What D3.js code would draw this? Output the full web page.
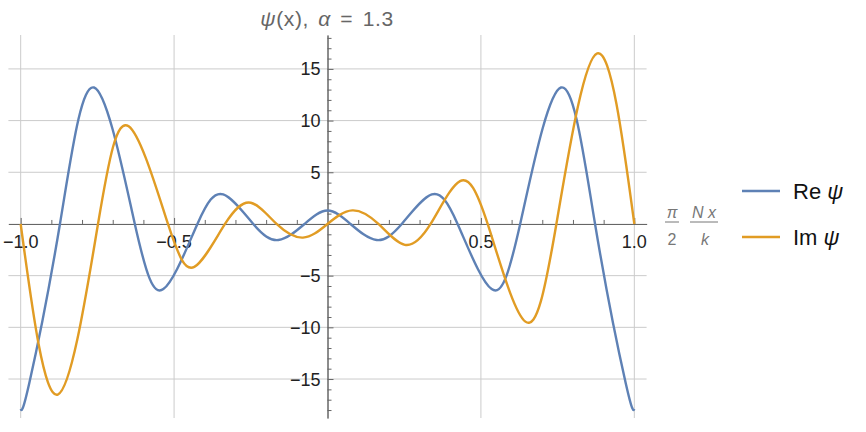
<!DOCTYPE html>
<html>
<head>
<meta charset="utf-8">
<script src="https://cdn.jsdelivr.net/npm/d3@7"></script>
<style>
  body { margin: 0; background: #fff; }
  svg { display: block; font-family: "Liberation Sans", Arial, sans-serif; }
</style>
</head>
<body>
<svg width="866" height="432"></svg>
<script>
// values: ends, zero crossings and turning points
var reX = [-1.000, -0.972, -0.872, -0.761, -0.628, -0.535, -0.424, -0.340, -0.242, -0.160, -0.075, 0.000,
            0.075, 0.160, 0.242, 0.340, 0.424, 0.535, 0.628, 0.761, 0.872, 0.972, 1.000];
var reY = [-17.9, -15.4, 0, 13.2, 0, -6.3, 0, 2.86, 0, -1.55, 0, 1.3,
            0, -1.55, 0, 2.86, 0, -6.3, 0, 13.2, 0, -15.4, -17.9];

var imX = [-1.000, -0.879, -0.748, -0.648, -0.520, -0.434, -0.334, -0.250, -0.166, -0.080, 0.000,
            0.081, 0.166, 0.252, 0.336, 0.432, 0.522, 0.645, 0.746, 0.879, 1.000];
var imY = [0, -16.5, 0, 9.45, 0, -4.15, 0, 2.05, 0, -1.32, 0,
           1.31, 0, -2.02, 0, 4.15, 0, -9.45, 0, 16.5, 0];

var xTicks = [-1, -0.5, 0.5, 1];
var xTickLabels = ["\u22121.0", "\u22120.5", "0.5", "1.0"];
var yTicks = [-15, -10, -5, 5, 10, 15];
var yTickLabels = ["\u221215", "\u221210", "\u22125", "5", "10", "15"];
var seriesNames = ["Re \u03c8", "Im \u03c8"];
var colors = ["#5e81b5", "#e19c24"];

var svg = d3.select('svg');

var x = d3.scaleLinear().domain([-1.04, 1.04]).range([8.4, 646.6]);
var y = d3.scaleLinear().domain([-18.77, 18.28]).range([418, 35]);

var gridColor = '#cbcbcb',
    axisColor = '#666';

// grid
svg.append('g').selectAll('line')
    .data(xTicks)
    .enter()
    .append('line')
    .attr('x1', function(d) { return x(d); })
    .attr('x2', function(d) { return x(d); })
    .attr('y1', y.range()[1])
    .attr('y2', y.range()[0])
    .attr('stroke', gridColor)
    .attr('stroke-width', 1);

svg.append('g').selectAll('line')
    .data(yTicks)
    .enter()
    .append('line')
    .attr('x1', x.range()[0])
    .attr('x2', x.range()[1])
    .attr('y1', function(d) { return y(d); })
    .attr('y2', function(d) { return y(d); })
    .attr('stroke', gridColor)
    .attr('stroke-width', 1);

// axes
var xMinor = d3.range(-10, 11).filter(function(i) { return i % 5 !== 0; }).map(function(i) { return i / 10; });
var yMinor = d3.range(-18, 19).filter(function(i) { return i % 5 !== 0; });

function styleAxis(g) {
  g.selectAll('path, line').attr('stroke', axisColor);
  g.selectAll('text').remove();
}

svg.append('g')
    .attr('transform', 'translate(0,' + y(0) + ')')
    .call(d3.axisTop(x).tickValues(xTicks).tickSize(6).tickSizeOuter(0))
    .call(styleAxis);
svg.append('g')
    .attr('transform', 'translate(0,' + y(0) + ')')
    .call(d3.axisTop(x).tickValues(xMinor).tickSize(4).tickSizeOuter(0))
    .call(styleAxis);
svg.append('g')
    .attr('transform', 'translate(' + x(0) + ',0)')
    .call(d3.axisRight(y).tickValues(yTicks).tickSize(6).tickSizeOuter(0))
    .call(styleAxis);
svg.append('g')
    .attr('transform', 'translate(' + x(0) + ',0)')
    .call(d3.axisRight(y).tickValues(yMinor).tickSize(4).tickSizeOuter(0))
    .call(styleAxis);

// tick labels
svg.append('g').selectAll('text')
    .data(xTicks)
    .enter()
    .append('text')
    .attr('x', function(d) { return x(d); })
    .attr('y', y(0) + 24)
    .attr('text-anchor', 'middle')
    .attr('font-size', 18)
    .attr('fill', '#222')
    .text(function(d, i) { return xTickLabels[i]; });

svg.append('g').selectAll('text')
    .data(yTicks)
    .enter()
    .append('text')
    .attr('x', x(0) - 7)
    .attr('y', function(d) { return y(d) + 6.5; })
    .attr('text-anchor', 'end')
    .attr('font-size', 18)
    .attr('fill', '#222')
    .text(function(d, i) { return yTickLabels[i]; });

// curves
var line = d3.line()
    .x(function(d) { return x(d[0]); })
    .y(function(d) { return y(d[1]); })
    .curve(d3.curveNatural);

var series = [d3.zip(reX, reY), d3.zip(imX, imY)];

svg.append('g').selectAll('path')
    .data(series)
    .enter()
    .append('path')
    .attr('d', line)
    .attr('fill', 'none')
    .attr('stroke', function(d, i) { return colors[i]; })
    .attr('stroke-width', 2.4)
    .attr('stroke-linejoin', 'round');

// title
svg.append('text')
    .attr('x', 327)
    .attr('y', 26)
    .attr('text-anchor', 'middle')
    .attr('font-size', 21)
    .attr('letter-spacing', 0.6)
    .attr('word-spacing', 3)
    .attr('fill', '#666')
    .html('<tspan font-style="italic">\u03c8</tspan>(x), <tspan font-style="italic">\u03b1</tspan> = 1.3');

// axis label  (pi/2) (N x / k)
var lab = svg.append('g').attr('fill', '#777').attr('font-size', 16);
lab.append('text').attr('x', 672).attr('y', 218).attr('text-anchor', 'middle').attr('font-style', 'italic').text('\u03c0');
lab.append('line').attr('x1', 665).attr('x2', 679).attr('y1', 222).attr('y2', 222).attr('stroke', '#777').attr('stroke-width', 1);
lab.append('text').attr('x', 672).attr('y', 245).attr('text-anchor', 'middle').text('2');
lab.append('text').attr('x', 704).attr('y', 218).attr('text-anchor', 'middle').attr('font-style', 'italic').text('N x');
lab.append('line').attr('x1', 690).attr('x2', 718).attr('y1', 222).attr('y2', 222).attr('stroke', '#777').attr('stroke-width', 1);
lab.append('text').attr('x', 705).attr('y', 245).attr('text-anchor', 'middle').attr('font-style', 'italic').text('k');

// legend
var legend = svg.append('g').selectAll('g')
    .data(seriesNames)
    .enter()
    .append('g')
    .attr('transform', function(d, i) { return 'translate(742,' + (191 + i * 46) + ')'; });

legend.append('line')
    .attr('x1', 0).attr('x2', 38)
    .attr('stroke', function(d, i) { return colors[i]; })
    .attr('stroke-width', 2.5);

legend.append('text')
    .attr('x', 51)
    .attr('y', 7.5)
    .attr('font-size', 22)
    .attr('fill', '#111')
    .html(function(d) {
      var parts = d.split(' ');
      return parts[0] + ' <tspan font-style="italic">' + parts[1] + '</tspan>';
    });
</script>
</body>
</html>
